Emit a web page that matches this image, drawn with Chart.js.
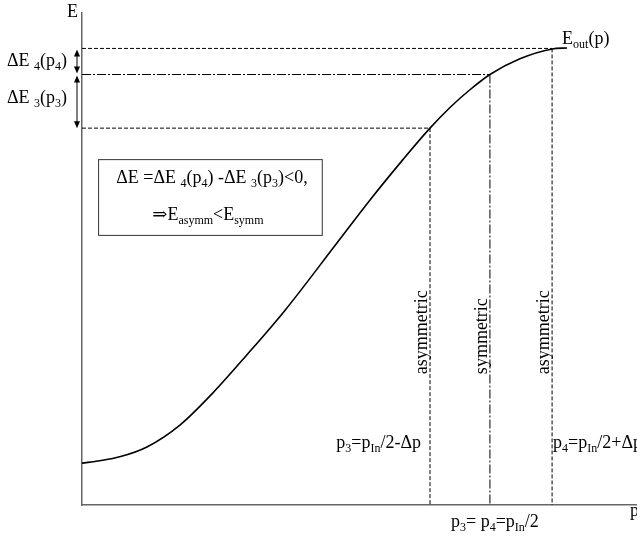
<!DOCTYPE html>
<html>
<head>
<meta charset="utf-8">
<script src="https://cdn.jsdelivr.net/npm/chart.js@4"></script>
<style>
  body { margin: 0; background: #fff; }
  #wrap { width: 637px; height: 538px; position: relative; }
</style>
</head>
<body>
<div id="wrap"><canvas id="myChart"></canvas></div>
<script>
// curve E_out(p)
var pValues = [0, 0.32, 0.68, 1.17, 1.77, 2.36, 2.97, 3.66, 4.59, 5.19, 5.79, 6.27, 6.63, 6.99, 7.35, 7.89, 8.47, 8.74];
var eValues = [0.85, 0.90, 0.98, 1.18, 1.63, 2.28, 3.05, 3.96, 5.32, 6.20, 7.03, 7.66, 8.08, 8.44, 8.75, 9.07, 9.27, 9.29];

// the three momenta and their energies
var pMarks = [6.27, 7.35, 8.47];      // p3, pIn/2, p4
var eMarks = [7.66, 8.75, 9.28];      // E(p3), E(pIn/2), E(p4)
var markLabels = ['asymmetric', 'symmetric', 'asymmetric'];

var xMax = 10, yMax = 10;

var curve = pValues.map(function (p, i) { return {x: p, y: eValues[i]}; });

var DASH = [4, 2];
var DASHDOT = [9, 2, 2, 2];
var styles = [DASH, DASHDOT, DASH];

var guides = [];
pMarks.forEach(function (p, i) {
    // horizontal from axis to the curve
    guides.push({data: [{x: 0, y: eMarks[i]}, {x: p, y: eMarks[i]}], borderColor: '#000', borderWidth: 1,
        borderDash: styles[i], pointRadius: 0, fill: false});
    // vertical from the curve down to the axis
    guides.push({data: [{x: p, y: eMarks[i]}, {x: p, y: 0}], borderColor: '#000', borderWidth: 1,
        borderDash: styles[i], pointRadius: 0, fill: false});
});

var SERIF = '"Liberation Serif", "DejaVu Serif", serif';
var BIG = 18, SMALL = 12;

// draw text made of pieces, ['txt', 's'] is a subscript
function rich(ctx, parts, x, y, align) {
    var w = 0;
    parts.forEach(function (pt) {
        ctx.font = (pt[1] === 's' ? SMALL : BIG) + 'px ' + SERIF;
        w += ctx.measureText(pt[0]).width;
    });
    var cx = x;
    if (align === 'right') cx = x - w;
    if (align === 'center') cx = x - w / 2;
    ctx.textAlign = 'left';
    ctx.textBaseline = 'alphabetic';
    parts.forEach(function (pt) {
        var sub = pt[1] === 's';
        ctx.font = (sub ? SMALL : BIG) + 'px ' + SERIF;
        ctx.fillText(pt[0], cx, sub ? y + 4 : y);
        cx += ctx.measureText(pt[0]).width;
    });
}

function arrowHead(ctx, x, y, dir) {
    ctx.beginPath();
    ctx.moveTo(x, y);
    ctx.lineTo(x - 3, y - dir * 7);
    ctx.lineTo(x + 3, y - dir * 7);
    ctx.closePath();
    ctx.fill();
}

function dblArrow(ctx, x, y1, y2) {
    ctx.beginPath();
    ctx.moveTo(x, y1 + 3);
    ctx.lineTo(x, y2 - 3);
    ctx.stroke();
    arrowHead(ctx, x, y1, -1);
    arrowHead(ctx, x, y2, 1);
}

var notes = {
    id: 'notes',
    afterDraw: function (chart) {
        var ctx = chart.ctx;
        var xs = chart.scales.x, ys = chart.scales.y;
        var left = chart.chartArea.left;
        ctx.save();
        ctx.fillStyle = '#000';
        ctx.strokeStyle = '#000';
        ctx.lineWidth = 1;

        // axis names
        rich(ctx, [['E', '']], left - 4, ys.getPixelForValue(yMax) + 4, 'right');
        rich(ctx, [['p', '']], xs.getPixelForValue(xMax) - 7, ys.getPixelForValue(0) + 11, 'left');

        // energy differences on the left
        var y4 = ys.getPixelForValue(eMarks[2]);
        var ys_ = ys.getPixelForValue(eMarks[1]);
        var y3 = ys.getPixelForValue(eMarks[0]);
        dblArrow(ctx, left - 5, y4 + 1, ys_ - 1);
        dblArrow(ctx, left - 5, ys_ + 1, y3);
        rich(ctx, [['\u0394E ', ''], ['4', 's'], ['(p', ''], ['4', 's'], [')', '']], left - 15, (y4 + ys_) / 2 + 5, 'right');
        rich(ctx, [['\u0394E ', ''], ['3', 's'], ['(p', ''], ['3', 's'], [')', '']], left - 15, (ys_ + y3) / 2 + 2, 'right');

        // curve name
        rich(ctx, [['E', ''], ['out', 's'], ['(p)', '']], xs.getPixelForValue(8.65), ys.getPixelForValue(9.29) - 4, 'left');

        // box
        var bx1 = xs.getPixelForValue(0.29), bx2 = xs.getPixelForValue(4.32);
        var by1 = ys.getPixelForValue(7.03), by2 = ys.getPixelForValue(5.49);
        ctx.lineWidth = 1;
        ctx.strokeStyle = '#333';
        ctx.strokeRect(bx1 + 0.5, by1 + 0.5, bx2 - bx1, by2 - by1);
        var bc = (bx1 + bx2) / 2;
        rich(ctx, [['\u0394E =\u0394E ', ''], ['4', 's'], ['(p', ''], ['4', 's'], [') -\u0394E ', ''], ['3', 's'],
            ['(p', ''], ['3', 's'], [')<0,', '']], bc + 2, by1 + 24, 'center');
        rich(ctx, [['\u21D2E', ''], ['asymm', 's'], ['<E', ''], ['symm', 's']], bc - 2, by1 + 61, 'center');

        // rotated labels beside the verticals
        pMarks.forEach(function (p, i) {
            ctx.save();
            ctx.translate(xs.getPixelForValue(p) - 3, ys.getPixelForValue(2.66));
            ctx.rotate(-Math.PI / 2);
            rich(ctx, [[markLabels[i], '']], 0, 0, 'left');
            ctx.restore();
        });

        // momenta
        var yb = ys.getPixelForValue(1.15);
        rich(ctx, [['p', ''], ['3', 's'], ['=p', ''], ['In', 's'], ['/2-\u0394p', '']], xs.getPixelForValue(pMarks[0]) - 9, yb, 'right');
        rich(ctx, [['p', ''], ['4', 's'], ['=p', ''], ['In', 's'], ['/2+\u0394p', '']], xs.getPixelForValue(pMarks[2]) + 1, yb, 'left');
        rich(ctx, [['p', ''], ['3', 's'], ['= p', ''], ['4', 's'], ['=p', ''], ['In', 's'], ['/2', '']],
            xs.getPixelForValue(pMarks[1]) + 5, ys.getPixelForValue(0) + 22, 'center');
        ctx.restore();
    }
};

var ctx = document.getElementById('myChart').getContext('2d');
var chart = new Chart(ctx, {
    type: 'line',
    data: {
        datasets: [{
            label: 'E_out(p)',
            data: curve,
            borderColor: '#000',
            borderWidth: 1.6,
            pointRadius: 0,
            cubicInterpolationMode: 'monotone',
            fill: false
        }].concat(guides)
    },
    options: {
        responsive: true,
        maintainAspectRatio: false,
        animation: false,
        layout: {padding: {left: 82, top: 13, right: 0, bottom: 33}},
        plugins: {legend: {display: false}, tooltip: {enabled: false}},
        scales: {
            x: {
                type: 'linear', min: 0, max: xMax,
                ticks: {display: false},
                grid: {display: false, drawTicks: false},
                border: {display: true, color: '#666', width: 1.5}
            },
            y: {
                type: 'linear', min: 0, max: yMax,
                ticks: {display: false},
                grid: {display: false, drawTicks: false},
                border: {display: true, color: '#666', width: 1.5}
            }
        }
    },
    plugins: [notes]
});
</script>
</body>
</html>
